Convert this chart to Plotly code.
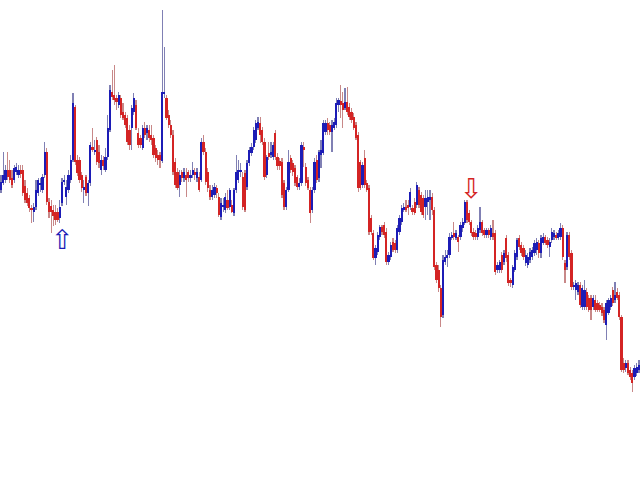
import plotly.graph_objects as go
import numpy as np

open_ = [
    290,297,300,310,310,302,300,308,305,310,
    310,294,287,282,272,268,273,287,295,290,
    305,328,278,274,270,268,268,262,277,298,
    283,290,300,320,373,320,320,305,290,303,
    287,297,333,328,340,328,310,320,310,323,
    350,388,385,382,375,382,368,365,362,350,
    352,368,375,347,342,332,352,347,350,345,
    342,332,325,325,319,386,382,365,355,345,
    318,308,295,308,302,305,308,302,305,308,
    302,303,300,338,328,308,290,283,285,292,
    283,263,273,270,280,273,275,267,290,300,
    308,303,307,293,317,327,333,340,352,357,
    350,338,305,327,325,323,347,323,319,318,
    297,273,290,322,317,312,303,293,297,333,
    313,300,290,270,290,320,302,325,327,348,
    357,355,348,352,355,375,379,377,372,378,
    373,368,363,355,345,318,295,322,297,292,
    262,247,222,228,243,253,255,248,218,223,
    238,237,230,248,258,270,273,275,273,272,
    278,275,290,285,282,273,278,280,283,270,
    215,210,192,165,218,222,225,242,247,242,
    243,243,252,257,278,267,258,248,247,243,
    250,258,250,245,250,243,247,247,210,210,
    225,218,242,225,200,195,210,223,242,235,
    232,217,215,220,223,227,230,237,227,237,
    243,240,233,240,243,245,242,243,252,217,
    213,245,227,193,190,188,195,173,173,188,
    182,182,173,180,177,175,173,170,155,167,
    173,190,180,188,185,163,117,112,117,110,
    107,103,107,110,
]
close = [
    298,305,310,303,300,295,312,313,310,306,
    287,280,277,272,270,273,290,300,297,303,
    328,278,268,268,264,260,260,273,298,300,
    293,305,320,377,318,307,300,292,293,287,
    297,335,330,330,318,317,320,314,323,352,
    390,383,380,378,385,365,362,355,338,335,
    372,382,352,335,335,352,345,352,342,340,
    325,322,320,320,388,388,362,355,345,308,
    295,292,305,302,308,300,302,305,310,305,
    308,290,338,328,298,292,283,290,293,287,
    265,277,275,283,272,290,268,290,308,310,
    310,273,270,317,330,333,350,357,358,345,
    338,303,323,323,328,335,323,314,314,285,
    273,290,318,310,308,297,293,297,335,330,
    297,292,267,290,318,300,328,330,357,357,
    350,348,355,358,377,380,375,370,378,368,
    363,360,352,342,292,292,315,295,290,248,
    248,222,232,245,253,248,245,218,225,235,
    230,230,252,262,272,273,270,272,288,268,
    267,295,275,268,265,282,283,283,270,213,
    200,192,163,220,223,225,243,245,243,247,
    238,255,258,278,260,258,247,243,243,252,
    258,247,245,250,245,252,243,208,215,218,
    210,227,222,197,197,213,227,240,233,227,
    223,225,223,228,230,237,238,227,242,243,
    237,235,238,248,247,242,247,252,223,210,
    245,223,193,195,197,195,175,192,190,173,
    170,170,182,170,170,170,167,160,177,180,
    182,177,185,182,163,110,110,117,107,103,
    97,112,113,115,
]
high = [
    305,328,315,328,320,310,315,317,315,315,
    315,300,292,285,275,277,300,302,302,306,
    338,332,282,280,275,275,272,280,302,305,
    300,310,325,387,375,325,323,308,300,305,
    300,338,352,340,343,335,325,324,332,365,
    395,410,415,385,388,385,377,368,365,355,
    375,387,380,352,345,355,358,355,355,355,
    345,335,330,328,470,433,385,370,360,350,
    322,312,310,310,312,312,310,310,318,312,
    312,308,342,345,332,312,295,295,297,295,
    287,282,282,287,290,292,280,292,325,320,
    317,308,310,320,333,337,353,360,363,363,
    353,342,325,338,338,338,350,327,322,322,
    300,293,330,325,320,315,305,302,338,338,
    317,303,293,293,322,325,330,340,360,360,
    362,358,360,362,382,382,395,388,392,393,
    377,372,367,358,348,320,318,330,300,295,
    265,250,235,248,255,255,258,252,228,238,
    242,240,255,265,275,277,280,280,292,275,
    282,298,293,288,285,290,290,290,287,273,
    218,215,195,225,230,230,247,248,258,250,
    245,258,262,280,280,270,260,252,250,255,
    273,260,252,252,252,255,260,250,218,220,
    228,230,245,228,202,215,230,242,245,238,
    235,230,227,232,233,240,242,240,245,247,
    245,243,242,252,250,248,250,257,255,220,
    248,248,230,198,200,198,198,195,200,192,
    185,185,185,185,180,178,177,173,180,182,
    185,193,198,192,188,165,122,120,120,113,
    110,115,117,120,
]
low = [
    287,295,297,300,297,292,297,305,302,302,
    284,277,274,268,257,258,270,284,288,287,
    302,275,262,247,254,255,258,257,274,295,
    275,287,297,318,315,304,297,288,277,284,
    274,294,328,325,315,312,305,310,308,320,
    348,380,375,370,372,362,360,352,335,330,
    330,365,350,332,332,330,342,340,338,335,
    322,318,315,312,317,382,360,352,342,305,
    292,290,283,298,298,283,298,298,302,300,
    298,288,298,325,295,288,280,280,282,282,
    263,260,268,267,270,270,267,264,287,297,
    303,270,268,290,314,324,330,337,350,337,
    335,300,302,320,322,320,320,310,310,282,
    270,270,288,307,304,294,290,290,294,313,
    294,290,257,267,287,297,298,312,325,345,
    345,345,328,350,352,368,362,352,370,365,
    360,357,350,340,288,290,292,292,288,245,
    245,220,215,225,240,245,242,215,215,220,
    228,227,227,245,255,268,268,265,270,265,
    265,272,272,265,262,260,265,260,265,210,
    197,188,153,162,215,213,222,240,240,240,
    228,240,248,255,257,255,244,240,240,240,
    247,244,242,242,242,240,240,205,207,207,
    207,215,218,194,193,192,208,220,230,224,
    220,214,212,217,220,224,225,222,222,235,
    235,232,223,237,240,240,240,240,220,197,
    210,220,190,190,180,185,172,170,170,170,
    168,160,170,168,168,168,164,157,140,165,
    170,174,177,180,160,108,107,108,105,100,
    88,100,104,107,
]

buy_signal_index = 28
buy_signal_level = 241
sell_signal_index = 216
sell_signal_level = 292

BLUE = "#1c1cb6"
RED = "#d42424"
BLUE_WICK = "#8080b4"
RED_WICK = "#c88888"

n = len(close)
idx = np.arange(n)
o = np.array(open_, dtype=float)
c = np.array(close, dtype=float)
h = np.array(high, dtype=float)
l = np.array(low, dtype=float)
up = c >= o

fig = go.Figure()
# wicks: low -> high
fig.add_trace(go.Bar(
    x=idx, base=l, y=h - l, width=0.55,
    marker=dict(color=[BLUE_WICK if u else RED_WICK for u in up], line=dict(width=0)),
    hoverinfo="skip", showlegend=False,
))
# bodies: open -> close
fig.add_trace(go.Bar(
    x=idx, base=o, y=c - o, width=1.0,
    marker=dict(color=[BLUE if u else RED for u in up], line=dict(width=0)),
    hoverinfo="skip", showlegend=False,
))

fig.add_annotation(x=buy_signal_index, y=buy_signal_level, text="⇧",
                   showarrow=False, font=dict(size=27, color=BLUE, family="DejaVu Sans"))
fig.add_annotation(x=sell_signal_index, y=sell_signal_level, text="⇩",
                   showarrow=False, font=dict(size=27, color=RED, family="DejaVu Sans"))

fig.update_layout(
    width=640, height=480,
    margin=dict(l=0, r=0, t=0, b=0),
    paper_bgcolor="white", plot_bgcolor="white",
    barmode="overlay", bargap=0, showlegend=False,
    xaxis=dict(visible=False, range=[-0.5, n - 0.5]),
    yaxis=dict(visible=False, range=[0, 480]),
)
fig.write_html("out.html", config={"displayModeBar": False, "staticPlot": True},
               post_script="document.body.style.margin='0';document.body.style.padding='0';")
